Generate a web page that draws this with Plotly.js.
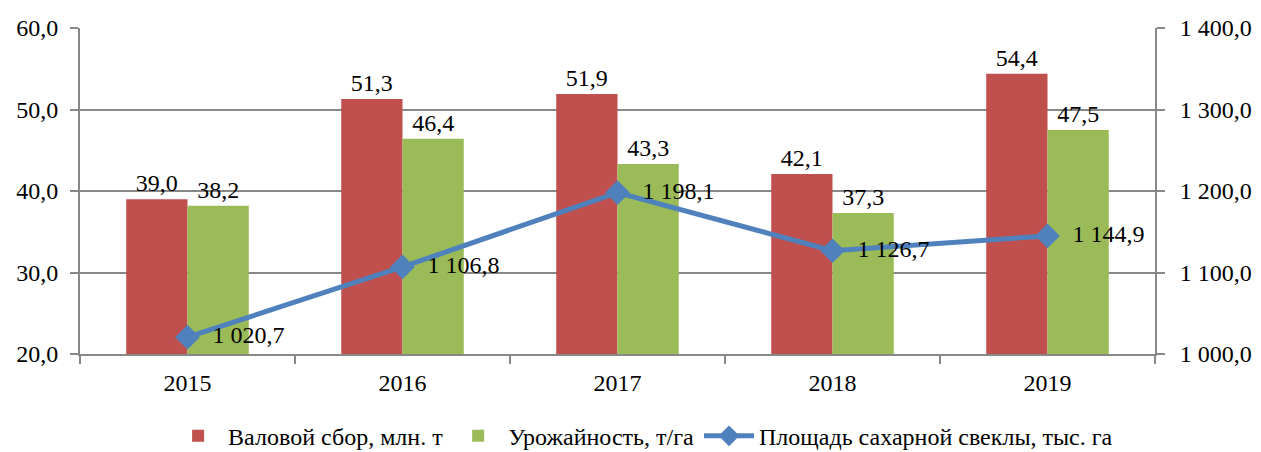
<!DOCTYPE html>
<html><head><meta charset="utf-8">
<script src="https://cdn.plot.ly/plotly-3.0.1.min.js"></script>
<style>body{margin:0;background:#fff}#c{width:1261px;height:452px}</style>
</head><body><div id="c"></div>
<script>
var years = ['2015','2016','2017','2018','2019'];
var gross = [39.0, 51.3, 51.9, 42.1, 54.4];
var yieldV = [38.2, 46.4, 43.3, 37.3, 47.5];
var area = [1020.7, 1106.8, 1198.1, 1126.7, 1144.9];
var names = ['Валовой сбор, млн. т', 'Урожайность, т/га', 'Площадь сахарной свеклы, тыс. га'];

function fmt(v){ return v.toFixed(1).replace('.', ','); }
function fmtK(v){ var s=v.toFixed(1).replace('.', ','); var p=s.split(','); var i=p[0]; if(i.length>3) i=i.slice(0,i.length-3)+' '+i.slice(-3); return i+','+p[1]; }

var F = '"Liberation Serif"';
var TS = 24;
var data = [
 {type:'bar', x:years, y:gross, name:names[0], marker:{color:'#C0504D'},
  text:gross.map(fmt), textposition:'outside', cliponaxis:false, textfont:{family:F,size:TS,color:'#000'}},
 {type:'bar', x:years, y:yieldV, name:names[1], marker:{color:'#9BBB59'},
  text:yieldV.map(fmt), textposition:'outside', cliponaxis:false, textfont:{family:F,size:TS,color:'#000'}},
 {type:'scatter', mode:'lines+markers+text', x:years, y:area, yaxis:'y2', name:names[2],
  line:{color:'#4F81BD', width:5}, marker:{symbol:'diamond', size:19, color:'#4F81BD'},
  text:area.map(fmtK), texttemplate:'\u00a0\u00a0%{text}', textposition:'middle right', cliponaxis:false, textfont:{family:F,size:TS,color:'#000'}}
];
var layout = {
 width:1261, height:452, margin:{l:80, r:106, t:28, b:98, autoexpand:false},
 paper_bgcolor:'#fff', plot_bgcolor:'#fff',
 separators:', ',
 font:{family:F, size:TS, color:'#000'},
 barmode:'group', bargap:0.43, bargroupgap:0,
 showlegend:true,
 legend:{orientation:'h', xref:'container', x:0.51, xanchor:'center', yref:'container', y:0.035, yanchor:'middle',
  itemwidth:50, font:{family:F,size:24}, traceorder:'normal'},
 xaxis:{type:'category', showline:true, linecolor:'#888', linewidth:2, ticks:'outside', tickson:'boundaries', ticklen:8, tickcolor:'#888', tickwidth:2, ticklabelstandoff:6, showgrid:false},
 yaxis:{range:[20,60], dtick:10, tickformat:'.1f', showline:true, linecolor:'#888', linewidth:2,
  gridcolor:'#888', gridwidth:2, ticks:'outside', ticklen:8, tickcolor:'#888', tickwidth:2, zeroline:false, ticklabelstandoff:7},
 yaxis2:{range:[1000,1400], dtick:100, tickformat:',.1f', overlaying:'y', side:'right', showline:true, linecolor:'#888', linewidth:2,
  showgrid:false, ticks:'outside', ticklen:8, tickcolor:'#888', tickwidth:2, zeroline:false, ticklabelstandoff:10}
};
Plotly.newPlot('c', data, layout, {displayModeBar:false});
</script></body></html>
